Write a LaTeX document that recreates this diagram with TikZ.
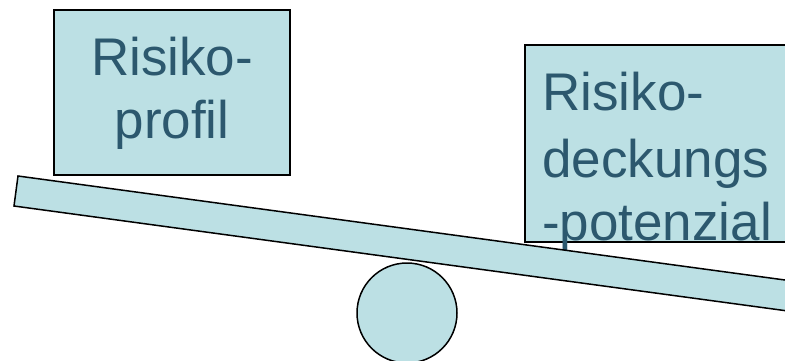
\documentclass[tikz,border=0pt]{standalone}
\usepackage{fontspec}
\setmainfont{Liberation Sans}
\definecolor{boxfill}{RGB}{188,224,228}
\definecolor{txt}{RGB}{44,88,110}
\begin{document}
\begin{tikzpicture}[x=1pt,y=-1pt,
  shapebox/.style={draw=black,line width=1.5pt,fill=boxfill},
  word/.style={anchor=base west,inner sep=0pt,text=txt,font=\fontsize{53}{64}\selectfont},
  cword/.style={anchor=base,inner sep=0pt,text=txt,font=\fontsize{53}{64}\selectfont}]
\useasboundingbox (0,0) rectangle (785,360);
\clip (0,0) rectangle (785,360);
% left box
\draw[shapebox] (54,10) rectangle (290,175);
\node[cword] (l1) at (172,75) {Risiko-};
\node[cword] (l2) at (172,138) {profil};
% right box
\draw[shapebox] (525,45) rectangle (800,242);
\node[word] (r1) at (542,110) {Risiko-};
\node[word] (r2) at (542,177) {deckungs};
\node[word] (r3) at (542,240) {-potenzial};
% beam
\draw[shapebox,line join=miter] (18,176) -- (900,295.6) -- (900,326.2) -- (14,206) -- cycle;
% fulcrum
\draw[shapebox] (407,313) circle (50);
\end{tikzpicture}
\end{document}
